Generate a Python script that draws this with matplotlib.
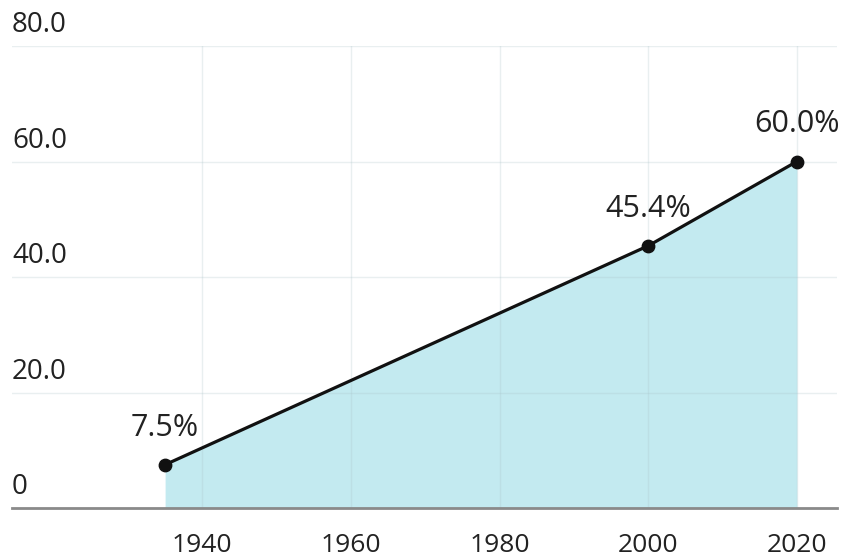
import matplotlib.pyplot as plt
from matplotlib.transforms import blended_transform_factory

# data
years = [1935, 2000, 2020]
shares = [7.5, 45.4, 60.0]
point_labels = ["7.5%", "45.4%", "60.0%"]
x_ticks = [1940, 1960, 1980, 2000, 2020]
y_ticks = [0, 20, 40, 60, 80]
y_tick_labels = ["0", "20.0", "40.0", "60.0", "80.0"]


def main():
    plt.rcParams['font.family'] = ['Open Sans', 'DejaVu Sans']

    fig = plt.figure(figsize=(8.47, 5.6), dpi=100)
    ax = fig.add_axes([12 / 847, 52 / 560, 825 / 847, 462 / 560])

    ax.fill_between(years, shares, 0, color='#c3eaf0', linewidth=0, zorder=1)
    ax.plot(years, shares, color='#111111', linewidth=2.3, zorder=3)
    ax.scatter(years, shares, s=80, color='#111111', zorder=4)

    for x, y, lab in zip(years, shares, point_labels):
        ax.annotate(lab, (x, y), xytext=(0, 21), textcoords='offset points',
                    ha='center', va='baseline', fontsize=22, color='#222222')

    ax.set_xlim(1914.4, 2025.4)
    ax.set_ylim(0, 80)

    ax.set_xticks(x_ticks)
    ax.set_yticks(y_ticks)
    ax.tick_params(axis='x', length=0, pad=18, labelsize=19, labelcolor='#222222')
    ax.tick_params(axis='y', length=0, labelleft=False)

    # y labels sit above their gridlines at the left edge
    trans = blended_transform_factory(ax.transAxes, ax.transData)
    for v, lab in zip(y_ticks, y_tick_labels):
        ax.annotate(lab, (0, v), xycoords=trans, xytext=(0, 5),
                    textcoords='offset points', ha='left', va='bottom',
                    fontsize=20, color='#222222')

    ax.set_axisbelow('line')
    ax.grid(True, color='#a8c0c6', alpha=0.25, linewidth=1)

    for side in ['top', 'right', 'left']:
        ax.spines[side].set_visible(False)
    ax.spines['bottom'].set_color('#8a8a8a')
    ax.spines['bottom'].set_linewidth(2)
    ax.spines['bottom'].set_zorder(5)

    fig.savefig("out.png", dpi=100)


if __name__ == "__main__":
    main()
